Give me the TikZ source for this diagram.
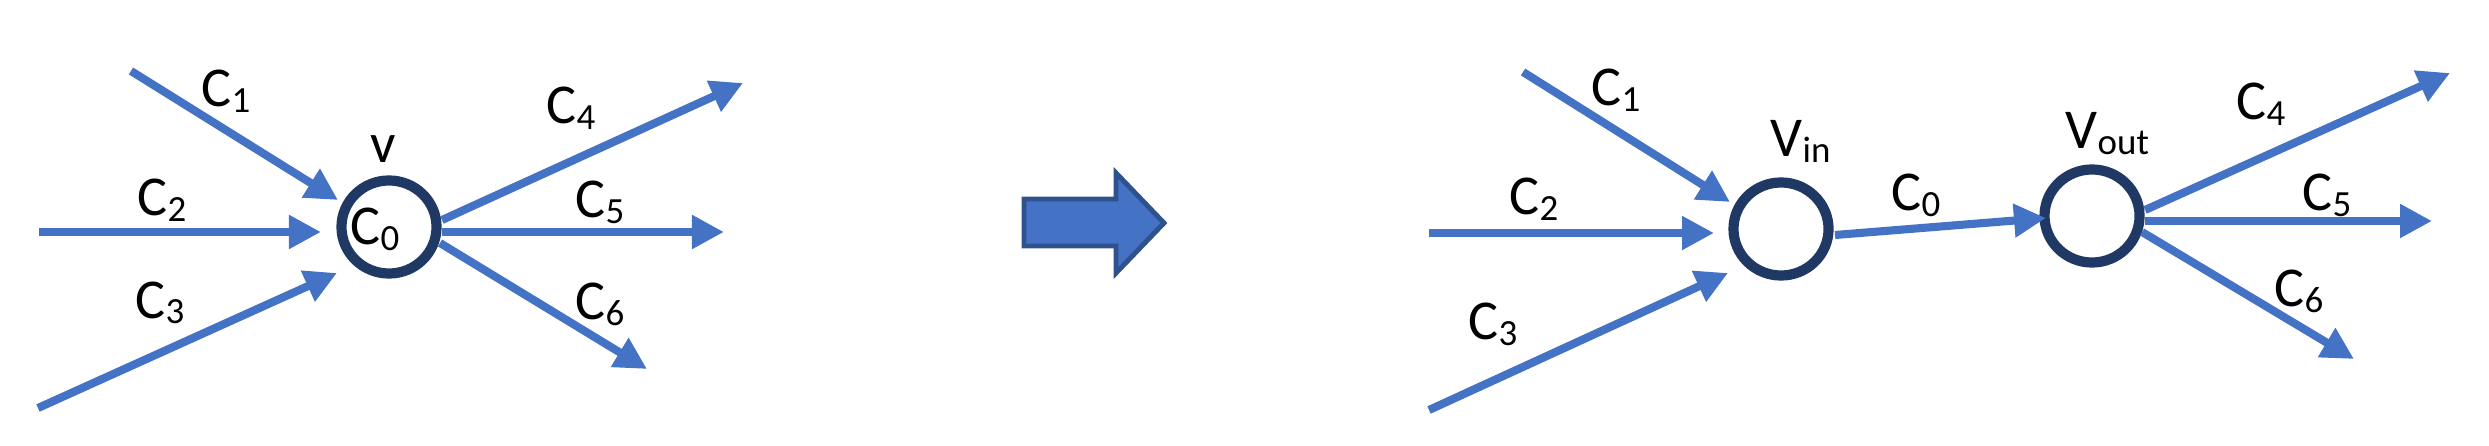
\documentclass[tikz,border=0pt]{standalone}
\usepackage{fontspec}
\setmainfont{Carlito}
\usetikzlibrary{arrows.meta,shapes.geometric}
\definecolor{lblue}{HTML}{4472C4}
\definecolor{navy}{HTML}{203864}
\definecolor{aborder}{HTML}{2F528F}
\newcommand\lbl[2]{#1\raisebox{-1.5pt}{\fontsize{10.5}{10.5}\selectfont #2}}
\begin{document}
\begin{tikzpicture}[x=0.01cm,y=-0.01cm,
  edge/.style={draw=lblue, line width=2.3pt, -{Triangle[length=0.32cm,width=0.32cm]}},
  vert/.style={draw=navy, line width=2.9pt, ellipse, inner sep=0pt, minimum width=0.95cm, minimum height=0.93cm},
  lab/.style={font=\fontsize{16}{16}\selectfont, inner sep=0pt, anchor=base west, text=black},
  bigarrow/.style={draw=aborder, fill=lblue, line width=1.4pt, line join=miter}]
\useasboundingbox (0,0) rectangle (2489,446);

% ---------- left graph ----------
\node[vert] (v) at (389,227) {};
\coordinate (l1s) at (131,71);  \coordinate (l1e) at (338,200);
\coordinate (l2s) at (39,232);  \coordinate (l2e) at (321,232);
\coordinate (l3s) at (38,408);  \coordinate (l3e) at (337,273);
\coordinate (l4s) at (442,220); \coordinate (l4e) at (743,83);
\coordinate (l5s) at (442,232); \coordinate (l5e) at (724,232);
\coordinate (l6s) at (440,243); \coordinate (l6e) at (647,369);
\draw[edge] (l1s) -- (l1e);
\draw[edge] (l2s) -- (l2e);
\draw[edge] (l3s) -- (l3e);
\draw[edge] (l4s) -- (l4e);
\draw[edge] (l5s) -- (l5e);
\draw[edge] (l6s) -- (l6e);
\node[lab] (lc1) at (201,107) {\lbl{C}{1}};
\node[lab] (lc2) at (137,216) {\lbl{C}{2}};
\node[lab] (lc3) at (135,318) {\lbl{C}{3}};
\node[lab] (lc4) at (546,124) {\lbl{C}{4}};
\node[lab] (lc5) at (575,218) {\lbl{C}{5}};
\node[lab] (lc6) at (575,320) {\lbl{C}{6}};
\node[lab] (lv)  at (370,163) {v};
\node[lab] (lc0) at (350,245) {\lbl{C}{0}};

% ---------- big arrow ----------
\draw[bigarrow] (1024,199) -- (1116,199) -- (1116,173) -- (1164,223) -- (1116,273) -- (1116,246) -- (1024,246) -- cycle;

% ---------- right graph ----------
\node[vert] (vin)  at (1781,229) {};
\node[vert] (vout) at (2092,216) {};
\coordinate (r1s) at (1523,72);  \coordinate (r1e) at (1730,202);
\coordinate (r2s) at (1429,233); \coordinate (r2e) at (1714,233);
\coordinate (r3s) at (1429,410); \coordinate (r3e) at (1728,273);
\coordinate (r0s) at (1835,235); \coordinate (r0e) at (2046,218);
\coordinate (r4s) at (2145,210); \coordinate (r4e) at (2450,73);
\coordinate (r5s) at (2145,221); \coordinate (r5e) at (2432,221);
\coordinate (r6s) at (2142,232); \coordinate (r6e) at (2354,359);
\draw[edge] (r1s) -- (r1e);
\draw[edge] (r2s) -- (r2e);
\draw[edge] (r3s) -- (r3e);
\draw[edge] (r0s) -- (r0e);
\draw[edge] (r4s) -- (r4e);
\draw[edge] (r5s) -- (r5e);
\draw[edge] (r6s) -- (r6e);
\node[lab] (rc1) at (1591,106) {\lbl{C}{1}};
\node[lab] (rc2) at (1509,215) {\lbl{C}{2}};
\node[lab] (rc3) at (1468,340) {\lbl{C}{3}};
\node[lab] (rc0) at (1891,211) {\lbl{C}{0}};
\node[lab] (rvin)  at (1770,157) {\lbl{V}{in}};
\node[lab] (rvout) at (2065,149) {\lbl{V}{out}};
\node[lab] (rc4) at (2236,120) {\lbl{C}{4}};
\node[lab] (rc5) at (2302,211) {\lbl{C}{5}};
\node[lab] (rc6) at (2274,307) {\lbl{C}{6}};
\end{tikzpicture}
\end{document}
